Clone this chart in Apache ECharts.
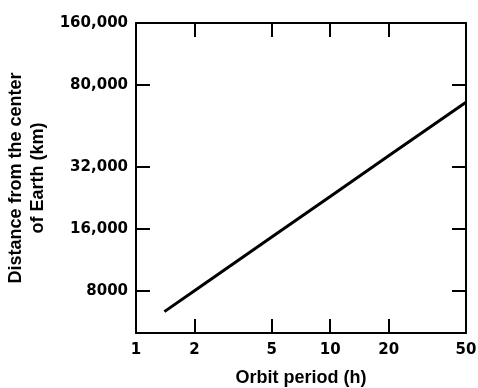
<!DOCTYPE html>
<html><head><meta charset="utf-8">
<script src="https://cdn.jsdelivr.net/npm/echarts@6/dist/echarts.min.js"></script>
<style>html,body{margin:0;padding:0;background:#fff}#c{width:478px;height:388px}</style>
</head><body><div id="c"></div>
<script>
const periods = [1.4, 2, 5, 10, 20, 50];
const distances = [6350, 8020, 14620, 23020, 36250, 66000];
const xTicks = [1, 2, 5, 10, 20, 50];
const yTicks = [8000, 16000, 32000, 80000, 160000];
const xTitle = 'Orbit period (h)';
const yTitle = 'Distance from the center\nof Earth (km)';

const fmt = v => v >= 10000 ? v.toLocaleString('en-US') : String(v);
const labelFont = {fontFamily: 'DejaVu Sans', fontWeight: 'bold', fontSize: 15, color: '#000'};
const titleFont = {fontFamily: 'Liberation Sans', fontWeight: 'bold', fontSize: 18, color: '#000'};
const line = {show: true, lineStyle: {color: '#000', width: 2}};

function xAxis(pos, labels) {
  return {
    type: 'log', logBase: 10, min: 1, max: 50, position: pos,
    axisLine: line,
    axisTick: {show: true, inside: true, length: 14, lineStyle: {color: '#000', width: 2}, customValues: xTicks.slice(1, -1)},
    axisLabel: Object.assign({show: labels, margin: 10, customValues: xTicks, formatter: v => String(v)}, labelFont),
    splitLine: {show: false}, minorTick: {show: false},
    name: labels ? xTitle : '', nameLocation: 'middle', nameGap: 36, nameTextStyle: titleFont
  };
}
function yAxis(pos, labels) {
  return {
    type: 'log', logBase: 2, min: 5000, max: 160000, position: pos,
    axisLine: line,
    axisTick: {show: true, inside: true, length: 14, lineStyle: {color: '#000', width: 2}, customValues: yTicks.slice(0, -1)},
    axisLabel: Object.assign({show: labels, margin: 8, customValues: yTicks, formatter: v => fmt(Math.round(v))}, labelFont),
    splitLine: {show: false}, minorTick: {show: false},
    name: labels ? yTitle : '', nameLocation: 'middle', nameGap: 84, nameRotate: 90,
    nameTextStyle: Object.assign({lineHeight: 22, align: 'center'}, titleFont)
  };
}

const chart = echarts.init(document.getElementById('c'), null, {renderer: 'canvas'});
chart.setOption({
  animation: false,
  grid: {left: 136, top: 23, right: 12, bottom: 55, containLabel: false, outerBoundsMode: 'none'},
  xAxis: [xAxis('bottom', true), xAxis('top', false)],
  yAxis: [yAxis('left', true), yAxis('right', false)],
  series: [{
    type: 'line', xAxisIndex: 0, yAxisIndex: 0, symbol: 'none',
    lineStyle: {color: '#000', width: 3},
    data: periods.map((p, i) => [p, distances[i]])
  }]
});
</script></body></html>
